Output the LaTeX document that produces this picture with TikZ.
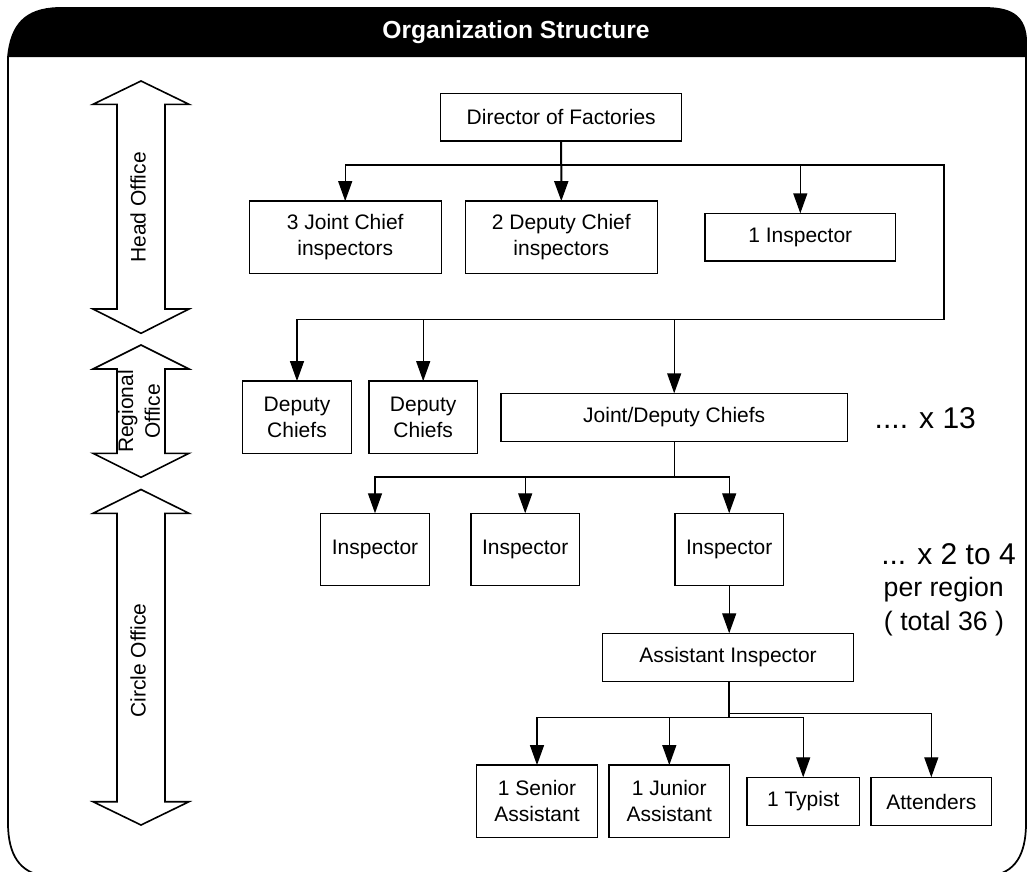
\documentclass[tikz,border=0pt]{standalone}
\usepackage{fontspec}
\setmainfont{Liberation Sans}
\usetikzlibrary{arrows.meta}
\newcommand\ofont{\fontsize{15.75}{19.3}\selectfont}
\newcommand\myDblArrow[4]{%
  \draw[blockarrow] (141,#1) -- (189,#2) -- (165,#2) -- (165,#3) -- (189,#3) -- (141,#4)
    -- (93,#3) -- (117,#3) -- (117,#2) -- (93,#2) -- cycle;}
\tikzset{
  box/.style={draw=black, line width=1pt, fill=white, inner sep=0pt, outer sep=0pt, align=center, font=\ofont},
  conn/.style={line width=1pt},
  arr/.style={line width=1pt, -{Triangle[length=15pt,width=10.5pt]}},
  blockarrow/.style={draw=black, line width=1.2pt, fill=white, line join=miter},
  side/.style={anchor=base, inner sep=0pt},
  frameline/.style={draw=black, line width=1.3pt},
}
\begin{document}
\begin{tikzpicture}[x=0.75pt,y=-0.75pt]
\useasboundingbox (0,0) rectangle (1030,871);
\clip (0,0) rectangle (1030,871);
% frame
\draw[frameline] (8,57) .. controls (11,25) and (25,9) .. (58,8) -- (985,8)
  .. controls (1008,8) and (1024,14) .. (1026,38) -- (1026,823)
  .. controls (1026,855) and (1015,873) .. (990,876) -- (45,876)
  .. controls (20,873) and (8,855) .. (8,823) -- cycle;
\fill[black] (8,57) .. controls (11,25) and (25,9) .. (58,8) -- (985,8)
  .. controls (1008,8) and (1024,14) .. (1026,38) -- (1026,57) -- cycle;
\node[font=\bfseries\fontsize{18.5}{22}\selectfont, text=white] (title) at (516,32) {Organization Structure};

% level arrows
\myDblArrow{81}{104.3}{309}{333.3}
\myDblArrow{345}{369}{453.3}{477.3}
\myDblArrow{489.5}{513.3}{801.7}{825}
\node[rotate=90, font=\ofont] (lhead) at (138,207.5) {Head Office};
\node[rotate=90, align=center, font=\fontsize{15.75}{20}\selectfont] (lreg) at (139,411.5) {Regional\\Office};
\node[rotate=90, font=\ofont] (lcirc) at (138,660.5) {Circle Office};

% nodes
\node[box, minimum width=180.75pt, minimum height=35.8pt] (dir) at (561.2,117.2) {Director of Factories};
\node[box, minimum width=144pt, minimum height=54.2pt] (jc3) at (345.2,237.2) {3 Joint Chief\\inspectors};
\node[box, minimum width=144pt, minimum height=54.2pt] (dc2) at (561.3,237.2) {2 Deputy Chief\\inspectors};
\node[box, minimum width=143pt, minimum height=35.8pt] (ins1) at (800.3,237.2) {1 Inspector};
\node[box, minimum width=81.4pt, minimum height=54.2pt] (dep1) at (297,417.2) {Deputy\\Chiefs};
\node[box, minimum width=81.4pt, minimum height=54.2pt] (dep2) at (423.2,417.2) {Deputy\\Chiefs};
\node[box, minimum width=259.7pt, minimum height=36.1pt] (jdc) at (674.2,417.4) {Joint/Deputy Chiefs};
\node[box, minimum width=81.3pt, minimum height=54.3pt] (insA) at (375,549.5) {Inspector};
\node[box, minimum width=81.3pt, minimum height=54.3pt] (insB) at (525.2,549.5) {Inspector};
\node[box, minimum width=81.3pt, minimum height=54.3pt] (insC) at (729.2,549.5) {Inspector};
\node[box, minimum width=188pt, minimum height=36.3pt] (asst) at (728,657.5) {Assistant Inspector};
\node[box, minimum width=90.5pt, minimum height=54.2pt] (sen) at (537,801.2) {1 Senior\\Assistant};
\node[box, minimum width=90.5pt, minimum height=54.2pt] (jun) at (669.3,801.2) {1 Junior\\Assistant};
\node[box, minimum width=84.2pt, minimum height=36.3pt] (typ) at (803.2,801.5) {1 Typist};
\node[box, minimum width=90.5pt, minimum height=36.3pt] (att) at (931.3,801.5) {Attenders};

% side notes
\node[side, font=\fontsize{22.5}{26}\selectfont] (n13) at (925.3,428.3) {.... x 13};
\node[side, font=\fontsize{22.5}{26}\selectfont] (n24) at (948.5,564) {... x 2 to 4};
\node[side, font=\fontsize{20}{24}\selectfont] (nper) at (943.7,596.7) {per region};
\node[side, font=\fontsize{20}{24}\selectfont] (ntot) at (944,630) {( total 36 )};

% connectors
\coordinate (b1) at (561.2,165);
\coordinate (r1) at (944,165);
\coordinate (r2) at (944,319.3);
\draw[arr, line width=1.5pt] (dir.south) -- (dc2.north);
\draw[arr] (b1) -| (jc3.north);
\draw[arr] (b1) -| (ins1.north);
\draw[arr] (b1) -- (r1) -- (r2) -| (dep1.north);
\draw[arr] (r2) -| (dep2.north);
\draw[arr] (r2) -| (jdc.north);

\coordinate (b3) at (674.2,477);
\draw[arr] (jdc.south) -- (b3) -| (insA.north);
\draw[arr] (b3) -| (insB.north);
\draw[arr] (b3) -| (insC.north);

\draw[arr] (insC.south) -- (insC.south |- asst.north);

\coordinate (b5) at (729.2,717.5);
\coordinate (b6) at (729.2,713.3);
\draw[conn, line width=1.5pt] (asst.south -| insC.south) -- (b5);
\draw[arr] (b5) -| (sen.north);
\draw[arr] (b5) -| (jun.north);
\draw[arr] (b5) -| (typ.north);
\draw[arr] (b6) -| (att.north);
\end{tikzpicture}
\end{document}
